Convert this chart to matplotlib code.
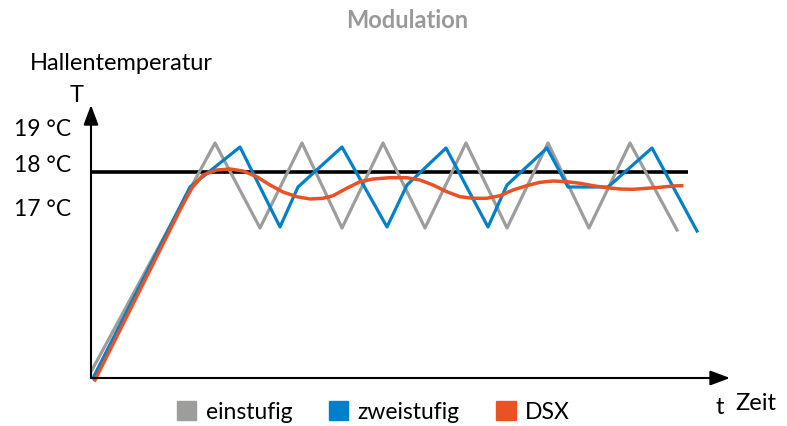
import matplotlib
matplotlib.use('Agg')
import matplotlib.pyplot as plt
from matplotlib.patches import Patch

plt.rcParams['font.family'] = ['Lato', 'DejaVu Sans']

# values (time / temperature in chart units)
t_ein = [1, 124, 169, 211, 251, 292, 334, 375, 416, 457, 498, 539, 586]
T_ein = [8, 235, 150, 235, 150, 235, 150, 235, 150, 235, 150, 235, 148]

t_zwei = [2, 99, 149, 189, 207, 251, 296, 316, 355, 397, 416, 456, 477, 517, 561, 606]
T_zwei = [0, 191, 231, 151, 191, 231, 151, 193, 230, 151, 193, 230, 191, 191, 230, 147]

t_dsx = [4, 89, 100.7, 112, 125.7, 139, 152, 165.7, 179, 192, 205.7, 219, 232, 242,
         255.7, 269, 282, 299, 315.7, 329, 342, 355.7, 369, 382, 395.7, 409, 422,
         435.7, 449, 462, 475.7, 489, 502, 515.7, 529, 542, 555.7, 569, 582, 590.7]
T_dsx = [-2, 168, 189.7, 203, 208, 209, 207, 201.3, 193, 186, 181.3, 179, 179.7, 182.3,
         189.7, 196.3, 199, 200.3, 200.3, 198, 193, 186.3, 181.3, 179.7, 179.7, 182.3, 188,
         192.3, 195.7, 197, 196.3, 194.7, 192.3, 190.3, 189, 188.7, 189.7, 190.7, 192, 192.3]

t_soll = [0, 597]
T_soll = [206, 206]

tick_pos = [251, 214, 170]
tick_labels = ['19 °C', '18 °C', '17 °C']

c_ein = '#9d9d9c'
c_zwei = '#0080c9'
c_dsx = '#e85224'

fig = plt.figure(figsize=(7.87, 4.26), dpi=100)
ax = fig.add_axes([91/787, 48/426, 639/787, 273/426])
ax.set_xlim(0, 639)
ax.set_ylim(0, 273)
for s in ax.spines.values():
    s.set_visible(False)

ax.plot(t_soll, T_soll, color='black', lw=2.6, solid_capstyle='butt')
ax.plot(t_ein, T_ein, color=c_ein, lw=2.3, clip_on=False)
ax.plot(t_zwei, T_zwei, color=c_zwei, lw=2.3, clip_on=False)
ax.plot(t_dsx, T_dsx, color=c_dsx, lw=2.5, clip_on=False, solid_joinstyle='round')

# axes with arrow heads
arrow = dict(arrowstyle='-|>,head_length=1.2,head_width=0.45', color='black',
             lw=1.5, shrinkA=0, shrinkB=0, mutation_scale=10)
ax.annotate('', xy=(0, 273), xytext=(0, 0), arrowprops=arrow, annotation_clip=False)
ax.annotate('', xy=(639, 0), xytext=(0, 0), arrowprops=arrow, annotation_clip=False)

ax.set_xticks([])
ax.set_yticks(tick_pos)
ax.set_yticklabels(tick_labels, fontsize=16.5)
ax.tick_params(axis='y', length=0, pad=14)

fig.text(407/787, 1 - 21/426, 'Modulation', ha='center', va='center',
         fontsize=17, fontweight='bold', color='#999999')
fig.text(30/787, 1 - 63/426, 'Hallentemperatur', ha='left', va='center', fontsize=17)
fig.text(77/787, 1 - 95/426, 'T', ha='center', va='center', fontsize=17)
fig.text(720/787, 1 - 407/426, 't', ha='center', va='center', fontsize=17)
fig.text(735/787, 1 - 403/426, 'Zeit', ha='left', va='center', fontsize=17)

handles = [Patch(color=c_ein, label='einstufig'),
           Patch(color=c_zwei, label='zweistufig'),
           Patch(color=c_dsx, label='DSX')]
fig.legend(handles=handles, loc='center left', bbox_to_anchor=(177/787, 1 - 412/426),
           ncol=3, frameon=False, fontsize=16.5, handlelength=0.85, handleheight=0.85,
           handletextpad=0.4, columnspacing=1.6, borderpad=0, borderaxespad=0)

plt.savefig('out.png', dpi=100)
